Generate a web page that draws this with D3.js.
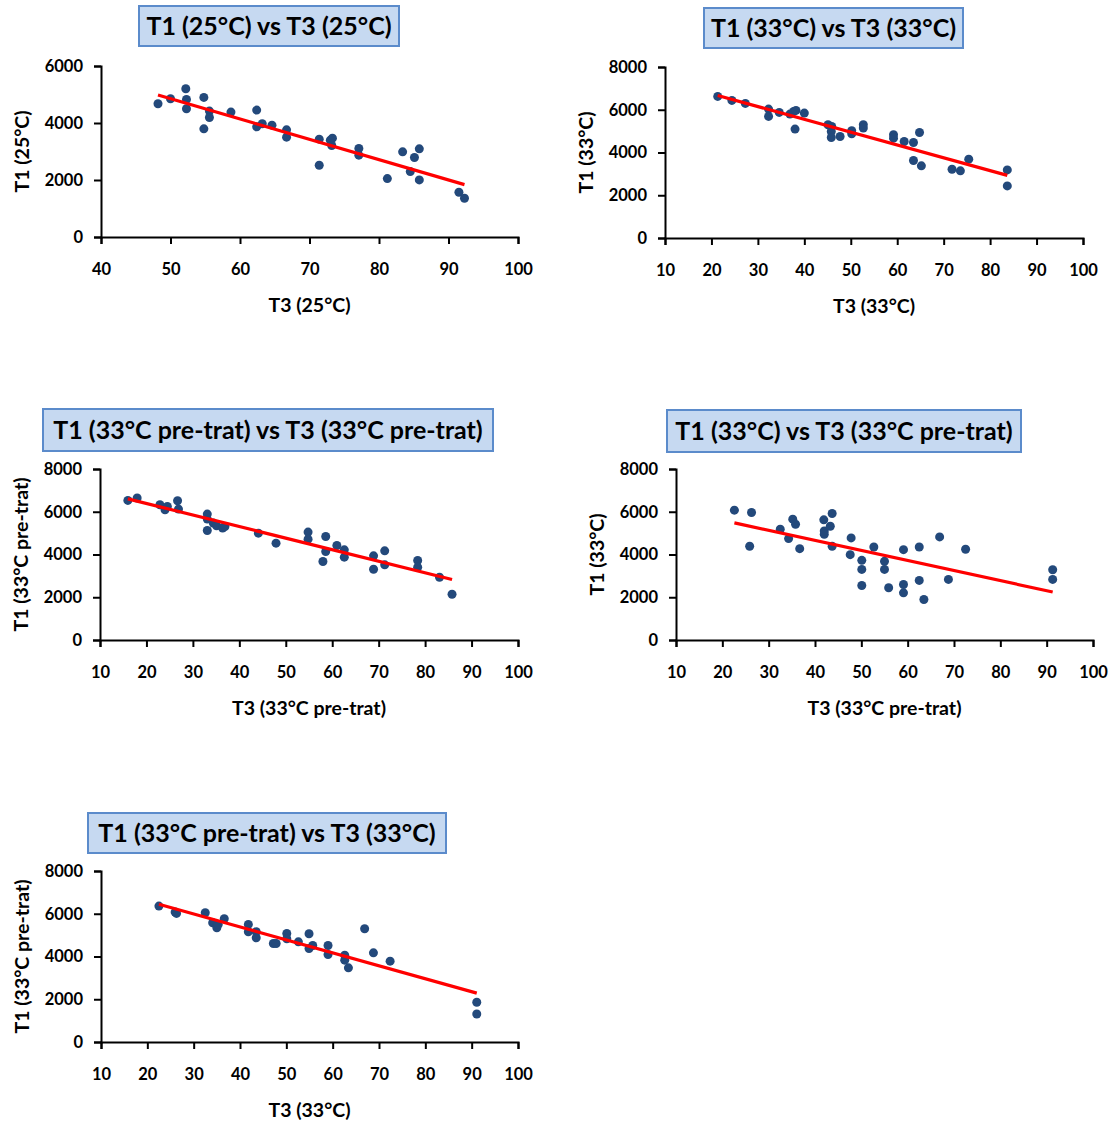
<!DOCTYPE html>
<html>
<head>
<meta charset="utf-8">
<script src="https://cdn.jsdelivr.net/npm/d3@7"></script>
<style>
  body { margin: 0; background: #fff; }
  svg { display: block; }
  text { font-family: Lato, "Open Sans", "Liberation Sans", sans-serif; font-weight: 700; fill: #000; }
</style>
</head>
<body>
<svg id="chart" width="1113" height="1126"></svg>
<script>
// ---- data: T3 (x) and T1 (y) values for each comparison ----
const t3_25 = [48.2, 50.0, 52.2, 52.3, 52.3, 54.8, 54.8, 55.6, 55.6, 58.7, 62.4, 62.4, 63.2, 64.6, 66.7, 66.7,
               71.4, 71.4, 73.0, 73.3, 73.2, 77.1, 77.1, 81.2, 83.4, 84.5, 85.1, 85.8, 85.8, 91.5, 92.3];
const t1_25 = [4675, 4851, 5202, 4827, 4499, 4897, 3796, 4417, 4194, 4382, 4452, 3866, 3972, 3925, 3761, 3503,
               3433, 2519, 3398, 3468, 3210, 3105, 2871, 2050, 2988, 2296, 2789, 3093, 2003, 1570, 1359];

const t3_33 = [21.35, 24.4, 27.3, 32.3, 32.3, 34.6, 36.9, 37.7, 38.2, 38.0, 40.0, 45.1, 45.9, 45.8, 45.8, 47.7,
               50.2, 50.2, 52.7, 52.7, 59.2, 59.2, 61.5, 63.5, 64.8, 63.5, 65.2, 71.8, 73.6, 75.4, 83.7, 83.7];
const t1_33 = [6625, 6437, 6297, 6031, 5687, 5875, 5797, 5922, 5969, 5094, 5844, 5297, 5219, 4984, 4703, 4750,
               5016, 4875, 5297, 5141, 4828, 4672, 4516, 4469, 4937, 3625, 3375, 3219, 3141, 3687, 3187, 2437];

const t3_pre = [16.0, 18.0, 22.9, 24.0, 24.5, 26.7, 26.9, 33.1, 33.1, 33.1, 34.4, 35.1, 36.4, 36.9, 44.1, 47.9,
                54.8, 54.8, 58.0, 58.6, 58.6, 61.0, 62.6, 62.6, 68.9, 68.9, 71.3, 71.3, 78.4, 78.4, 83.1, 85.8];
const t1_pre = [6531, 6641, 6328, 6094, 6250, 6516, 6125, 5891, 5656, 5125, 5469, 5344, 5234, 5312, 5000, 4531,
                5047, 4719, 3672, 4844, 4141, 4422, 4219, 3875, 3937, 3312, 4172, 3516, 3719, 3406, 2937, 2141];

const t3_pre_b = [22.6, 26.3, 25.9, 32.5, 34.3, 35.2, 35.8, 36.7, 41.9, 42.0, 42.0, 43.3, 43.7, 43.7, 47.8, 47.6, 50.1,
                  50.1, 50.1, 52.7, 55.0, 55.0, 55.9, 59.1, 59.1, 59.1, 62.5, 62.5, 63.5, 66.9, 68.8, 72.5, 91.3, 91.3];
const t1_33_b  = [6075, 5965, 4384, 5182, 4744, 5652, 5417, 4274, 5620, 5104, 4947, 5323, 5918, 4384, 4775, 3992, 3726,
                  3303, 2552, 4352, 3679, 3303, 2442, 4227, 2599, 2207, 4352, 2787, 1894, 4822, 2834, 4243, 3288, 2834];

const t3_33_c  = [22.5, 26.0, 26.3, 32.5, 34.1, 35.0, 35.3, 36.6, 41.8, 41.8, 43.5, 43.5, 47.2, 47.8, 50.1,
                  50.1, 52.6, 54.9, 54.9, 55.7, 59.0, 59.0, 62.6, 62.6, 63.4, 66.9, 68.8, 72.4, 91.1, 91.1];
const t1_pre_c = [6359, 6078, 6016, 6047, 5578, 5344, 5500, 5766, 5500, 5156, 5156, 4875, 4609, 4609, 5078,
                  4828, 4687, 5062, 4375, 4516, 4516, 4094, 4062, 3828, 3469, 5297, 4172, 3781, 1859, 1312];

// ---- axis ticks ----
const xTicks40 = [40, 50, 60, 70, 80, 90, 100];
const xTicks10 = [10, 20, 30, 40, 50, 60, 70, 80, 90, 100];
const yTicks6k = [0, 2000, 4000, 6000];
const yTicks8k = [0, 2000, 4000, 6000, 8000];

// ---- labels ----
const titles = [
  "T1 (25°C) vs T3 (25°C)",
  "T1 (33°C) vs T3 (33°C)",
  "T1 (33°C pre-trat) vs T3 (33°C pre-trat)",
  "T1 (33°C) vs T3 (33°C pre-trat)",
  "T1 (33°C pre-trat) vs T3 (33°C)"
];
const xLabels = ["T3 (25°C)", "T3 (33°C)", "T3 (33°C pre-trat)", "T3 (33°C pre-trat)", "T3 (33°C)"];
const yLabels = ["T1 (25°C)", "T1 (33°C)", "T1 (33°C pre-trat)", "T1 (33°C)", "T1 (33°C pre-trat)"];

// ---- panel layout (plot rectangle and title box, in px) ----
const panels = [
  { xs: t3_25,    ys: t1_25,    xTicks: xTicks40, yTicks: yTicks6k, left: 101, right: 518,  top: 66,  bottom: 237,  box: [139, 6, 399, 46] },
  { xs: t3_33,    ys: t1_33,    xTicks: xTicks10, yTicks: yTicks8k, left: 665, right: 1083, top: 67,  bottom: 238,  box: [704, 8, 963, 48] },
  { xs: t3_pre,   ys: t1_pre,   xTicks: xTicks10, yTicks: yTicks8k, left: 100, right: 518,  top: 469, bottom: 640,  box: [43, 409, 493, 451] },
  { xs: t3_pre_b, ys: t1_33_b,  xTicks: xTicks10, yTicks: yTicks8k, left: 676, right: 1093, top: 469, bottom: 640,  box: [667, 410, 1021, 452] },
  { xs: t3_33_c,  ys: t1_pre_c, xTicks: xTicks10, yTicks: yTicks8k, left: 101, right: 518,  top: 871, bottom: 1042, box: [88, 813, 446, 853] }
];

const DOT = "#23497b";
const TREND = "#ff0000";

// least-squares linear fit
function linFit(xs, ys) {
  const mx = d3.mean(xs), my = d3.mean(ys);
  let sxy = 0, sxx = 0;
  xs.forEach((x, i) => { sxy += (x - mx) * (ys[i] - my); sxx += (x - mx) * (x - mx); });
  const b = sxy / sxx;
  return { slope: b, intercept: my - b * mx };
}

const svg = d3.select("#chart");

panels.forEach((p, k) => {
  const g = svg.append("g");
  const x = d3.scaleLinear()
    .domain(d3.extent(p.xTicks))
    .range([p.left, p.right]);
  const y = d3.scaleLinear()
    .domain(d3.extent(p.yTicks))
    .range([p.bottom, p.top]);

  // title box
  const [bx0, by0, bx1, by1] = p.box;
  g.append("rect")
    .attr("x", bx0).attr("y", by0)
    .attr("width", bx1 - bx0).attr("height", by1 - by0)
    .attr("fill", "#c6d9f1")
    .attr("stroke", "#5b8bcb")
    .attr("stroke-width", 2);
  g.append("text")
    .attr("x", (bx0 + bx1) / 2)
    .attr("y", (by0 + by1) / 2 + 9)
    .attr("text-anchor", "middle")
    .attr("font-size", 25)
    .text(titles[k]);

  // x axis
  const xAxis = d3.axisBottom(x)
    .tickValues(p.xTicks)
    .tickSize(7)
    .tickPadding(19)
    .tickFormat(d3.format("d"));
  const gx = g.append("g")
    .attr("transform", `translate(0,${p.bottom})`)
    .call(xAxis);

  // y axis
  const yAxis = d3.axisLeft(y)
    .tickValues(p.yTicks)
    .tickSize(7)
    .tickPadding(11)
    .tickFormat(d3.format("d"));
  const gy = g.append("g")
    .attr("transform", `translate(${p.left},0)`)
    .call(yAxis);

  [gx, gy].forEach(ax => {
    ax.select(".domain").attr("stroke", "#000").attr("stroke-width", 2);
    ax.selectAll(".tick line").attr("stroke", "#000").attr("stroke-width", 2);
    ax.selectAll(".tick text")
      .attr("fill", "#000")
      .style("font-family", "Lato, 'Open Sans', sans-serif")
      .style("font-weight", 700)
      .style("font-size", "16.5px");
  });

  // axis titles
  g.append("text")
    .attr("x", (p.left + p.right) / 2)
    .attr("y", p.bottom + 75)
    .attr("text-anchor", "middle")
    .attr("font-size", 19.5)
    .text(xLabels[k]);
  g.append("text")
    .attr("transform", `translate(${p.left - 72},${(p.top + p.bottom) / 2}) rotate(-90)`)
    .attr("text-anchor", "middle")
    .attr("font-size", 19.5)
    .text(yLabels[k]);

  // points
  const pts = p.xs.map((v, i) => [v, p.ys[i]]);
  g.append("g").selectAll("circle")
    .data(pts)
    .join("circle")
    .attr("cx", d => x(d[0]))
    .attr("cy", d => y(d[1]))
    .attr("r", 4.5)
    .attr("fill", DOT);

  // linear trend line across the data range
  const fit = linFit(p.xs, p.ys);
  const [xmin, xmax] = d3.extent(p.xs);
  g.append("line")
    .attr("x1", x(xmin)).attr("y1", y(fit.intercept + fit.slope * xmin))
    .attr("x2", x(xmax)).attr("y2", y(fit.intercept + fit.slope * xmax))
    .attr("stroke", TREND)
    .attr("stroke-width", 3.2);
});
</script>
</body>
</html>
